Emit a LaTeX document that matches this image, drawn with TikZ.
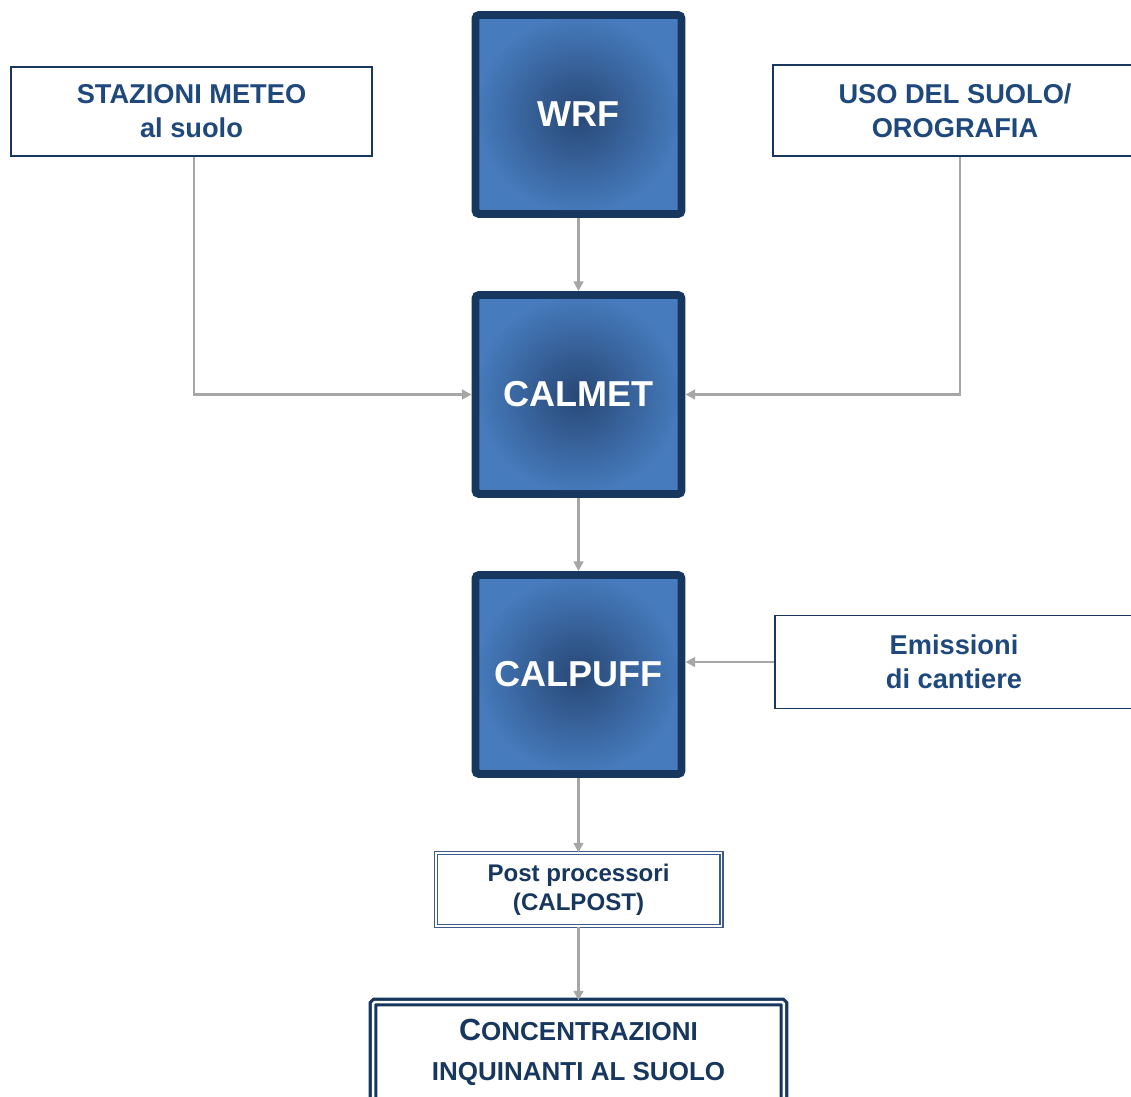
\documentclass[tikz,border=0pt]{standalone}
\usepackage{fontspec}
\setmainfont{Liberation Sans}
\usetikzlibrary{arrows.meta}

\definecolor{boxblue}{HTML}{17375E}
\definecolor{txtblue}{HTML}{1F497D}
\definecolor{shadein}{HTML}{284876}
\definecolor{shadeout}{HTML}{467BBD}
\definecolor{linkgrey}{HTML}{A6A6A6}
\definecolor{rimblue}{HTML}{3D5C88}

\begin{document}
\begin{tikzpicture}[x=0.02cm,y=-0.02cm]
	\tikzstyle{model}=[rectangle,line width=4.5pt,draw=boxblue,rounded corners=2pt,inner color=shadein,outer color=shadeout,text=white,font=\fontsize{20.5}{24}\selectfont\bfseries,minimum width=4.12cm,minimum height=3.98cm]
	\tikzstyle{input}=[rectangle,line width=1.1pt,draw=boxblue,fill=white,text=txtblue,align=center,font=\fontsize{15.5}{19.3}\selectfont\bfseries]
	\tikzstyle{post}=[rectangle,draw=rimblue,line width=0.6pt,double=white,double distance=1.1pt,text=boxblue,align=center,font=\fontsize{13.7}{16.4}\selectfont\bfseries,minimum width=5.72cm,minimum height=1.46cm]
	\tikzstyle{result}=[rectangle,draw=boxblue,line width=1.8pt,double=white,double distance=1.4pt,rounded corners=1pt,text=boxblue,align=center,font=\fontsize{14.8}{22.7}\selectfont\bfseries,minimum width=8.22cm,minimum height=2cm]
	\tikzstyle{link}=[-{Triangle[length=5.5pt,width=5.5pt]},line width=1.4pt,draw=linkgrey]

	\useasboundingbox (0,0) rectangle (1131,1097);

	\node [model] (wrf) at (578.5,114.5) {WRF};
	\node [model] (calmet) at (578.5,394.5) {CALMET};
	\node [model] (calpuff) at (578.5,674.5) {CALPUFF};
	\node [post] (post) at (578.5,889.5) {Post processori\\(CALPOST)};
	\node [result] (conc) at (578.5,1052) {{\fontsize{17.4}{22.7}\selectfont C}ONCENTRAZIONI\\INQUINANTI AL SUOLO};

	\node [input,minimum width=7.22cm,minimum height=1.78cm] (stazioni) at (191.5,111.5) {STAZIONI METEO\\al suolo};
	\node [input,minimum width=7.28cm,minimum height=1.82cm] (uso) at (955,110.5) {USO DEL SUOLO/\\OROGRAFIA};
	\node [input,minimum width=7.18cm,minimum height=1.86cm] (emissioni) at (954,662) {Emissioni\\di cantiere};

	\foreach \source/\dest in
	{wrf/calmet,calmet/calpuff,calpuff/post,post/conc}
	  \draw [link] (\source) -- (\dest);

	\draw [link] ([xshift=0.05cm]stazioni.south) |- (calmet);
	\draw [link] ([xshift=0.1cm]uso.south) |- (calmet);
	\draw [link] (emissioni.west) -- (emissioni.west -| calpuff.east);
\end{tikzpicture}
\end{document}
